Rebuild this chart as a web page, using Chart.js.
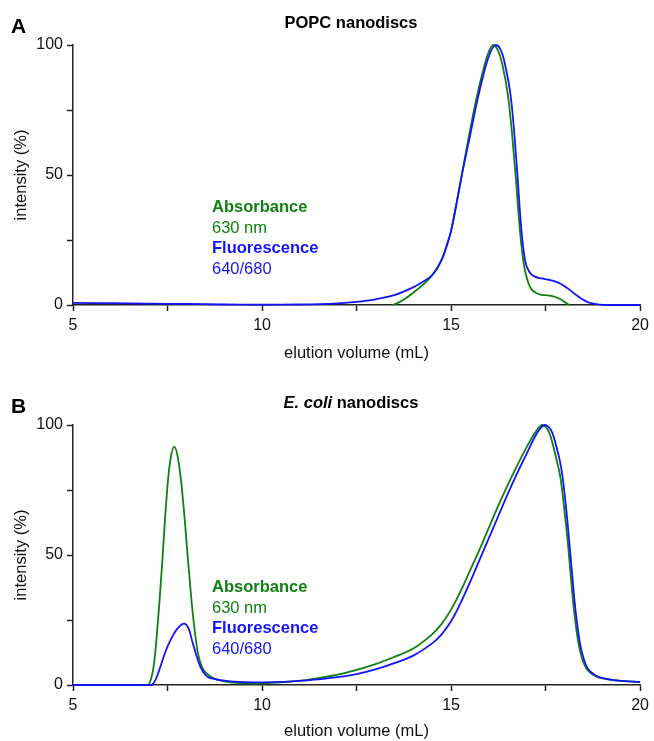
<!DOCTYPE html>
<html>
<head>
<meta charset="utf-8">
<script src="https://cdn.jsdelivr.net/npm/chart.js@4.4.1/dist/chart.umd.min.js"></script>
<style>
  html, body { margin: 0; padding: 0; background: #fff; }
  canvas { position: absolute; left: 0; }
  #chartA { top: 0; }
  #chartB { top: 380px; }
</style>
</head>
<body>
<canvas id="chartA" width="654" height="380"></canvas>
<canvas id="chartB" width="654" height="361"></canvas>
<script>
// tick labels
const xTickLabels = [5, 10, 15, 20];
const yTickLabels = [0, 50, 100];

// Panel A - POPC nanodiscs
const popcAbsX = [13.46, 13.7, 14.05, 14.4, 14.6, 14.75, 14.9, 15.0, 15.15, 15.32, 15.5, 15.68, 15.88, 16.0, 16.11, 16.22, 16.35, 16.51, 16.68, 16.82, 16.92, 17.02, 17.12, 17.25, 17.39, 17.55, 17.7, 17.87, 18.0, 18.13];
const popcAbsY = [0, 1.6, 5.3, 9.8, 13.5, 17.5, 23.5, 28.5, 39.5, 53, 67, 80, 92, 97.5, 100, 98.5, 93, 80, 54.6, 29, 16, 9.5, 6.2, 4.6, 3.9, 3.7, 3.3, 2.4, 1.2, 0];
const popcFluX = [5, 6, 7, 8, 9, 10, 11, 11.5, 12, 12.5, 13, 13.5, 14, 14.3, 14.5, 14.65, 14.8, 14.9, 15.0, 15.15, 15.3, 15.5, 15.7, 15.9, 16.05, 16.18, 16.3, 16.42, 16.58, 16.73, 16.86, 16.96, 17.06, 17.2, 17.4, 17.56, 17.75, 17.91, 18.1, 18.26, 18.45, 18.6, 18.8, 19.05, 20];
const popcFluY = [0.8, 0.7, 0.5, 0.4, 0.2, 0.1, 0.2, 0.3, 0.6, 1.2, 2.2, 3.8, 6.8, 9.3, 11.5, 14.5, 19, 23.5, 28.5, 39.5, 51, 65, 79, 91, 97.5, 100, 98.5, 93, 80, 55, 29, 17, 13, 11, 10.2, 9.8, 9.1, 8.1, 6.2, 4.4, 2.4, 1.2, 0.4, 0, 0];

// Panel B - E. coli nanodiscs
const ecoliAbsX = [5, 6.9, 7.0, 7.12, 7.22, 7.35, 7.47, 7.57, 7.68, 7.79, 7.91, 8.06, 8.23, 8.41, 8.72, 9.25, 10.0, 11.16, 12.0, 12.5, 13.0, 13.5, 14.0, 14.5, 14.75, 15.0, 15.25, 15.5, 15.75, 16.0, 16.25, 16.5, 16.75, 17.0, 17.2, 17.39, 17.5, 17.6, 17.7, 17.8, 17.89, 18.0, 18.09, 18.16, 18.25, 18.37, 18.47, 18.57, 18.7, 18.88, 19.14, 19.5, 20];
const ecoliAbsY = [0, 0, 0, 6, 19.8, 45, 71, 86, 91.7, 86, 71, 45, 19.8, 7, 2.6, 0.9, 0.6, 1.9, 4, 5.8, 8, 10.8, 14, 19.5, 23.5, 29, 36, 44, 52, 60.5, 69, 77, 84.5, 91.5, 96.5, 100, 99.3, 97, 92, 86, 80, 67, 54.5, 43, 29, 16, 10, 6.5, 4.5, 3.0, 2.2, 1.6, 1.2];
const ecoliFluX = [5, 7.0, 7.09, 7.2, 7.31, 7.45, 7.57, 7.75, 7.93, 8.05, 8.15, 8.25, 8.37, 8.5, 8.63, 9.25, 10.0, 11.2, 12.0, 12.5, 13.0, 13.5, 14.0, 14.5, 14.75, 15.0, 15.25, 15.5, 15.75, 16.0, 16.25, 16.5, 16.75, 17.0, 17.2, 17.35, 17.47, 17.58, 17.68, 17.78, 17.88, 17.95, 18.05, 18.13, 18.2, 18.29, 18.41, 18.51, 18.61, 18.74, 18.92, 19.18, 19.5, 20];
const ecoliFluY = [0, 0, 0, 2.5, 7, 13, 17, 21.5, 23.6, 22, 17, 12, 7, 4, 2.6, 1.3, 1.0, 1.8, 3, 4.2, 6, 8.4, 11.3, 16, 19.5, 24.5, 31.5, 39.5, 48, 56.5, 65, 73.5, 81.5, 89, 95, 98.5, 100, 99.3, 97, 92, 86, 80, 67, 54.5, 43, 29, 16, 10, 6.5, 4.5, 3.0, 2.2, 1.6, 1.2];

const GREEN = 'rgb(16,128,16)';
const BLUE = 'rgb(20,20,250)';
const FONT = '"Liberation Sans", Arial, sans-serif';

function pts(xs, ys) {
  return xs.map((x, i) => ({ x: x, y: ys[i] }));
}

// titles, panel letters and the coloured text legend
const panelText = {
  id: 'panelText',
  afterDraw(chart, args, opts) {
    const ctx = chart.ctx;
    ctx.save();
    ctx.textBaseline = 'alphabetic';
    ctx.fillStyle = '#000';
    ctx.font = 'bold 21px ' + FONT;
    ctx.fillText(opts.letter, 11, 33);

    // title, centred, with optional italic part
    const parts = opts.title;
    let w = 0;
    parts.forEach(p => { ctx.font = p.font + ' ' + FONT; w += ctx.measureText(p.text).width; });
    let x = 351 - w / 2;
    parts.forEach(p => {
      ctx.font = p.font + ' ' + FONT;
      ctx.fillText(p.text, x, 27.5);
      x += ctx.measureText(p.text).width;
    });

    const lines = [
      ['Absorbance', 'bold 16.5px', GREEN],
      ['630 nm', '16.5px', GREEN],
      ['Fluorescence', 'bold 16.5px', BLUE],
      ['640/680', '16.5px', BLUE]
    ];
    lines.forEach((l, i) => {
      ctx.font = l[1] + ' ' + FONT;
      ctx.fillStyle = l[2];
      ctx.fillText(l[0], 212, 212 + i * 20.6);
    });
    ctx.restore();
  }
};

function makeChart(id, absX, absY, fluX, fluY, letter, title, xBoxH, padBottom) {
  return new Chart(document.getElementById(id), {
    type: 'line',
    data: {
      datasets: [
        { label: 'Fluorescence 640/680', data: pts(fluX, fluY), borderColor: BLUE, borderWidth: 1.8,
          pointRadius: 0, tension: 0.4, clip: false, fill: false },
        { label: 'Absorbance 630 nm', data: pts(absX, absY), borderColor: GREEN, borderWidth: 1.8,
          pointRadius: 0, tension: 0.4, clip: false, fill: false }
      ]
    },
    options: {
      responsive: false,
      animation: false,
      events: [],
      layout: { padding: { left: 0, right: 11, top: 45, bottom: padBottom } },
      plugins: {
        legend: { display: false },
        tooltip: { enabled: false },
        panelText: { letter: letter, title: title }
      },
      scales: {
        x: {
          type: 'linear',
          min: 5, max: 20,
          afterFit: s => { s.height = xBoxH; },
          border: { color: '#222', width: 1.5 },
          grid: { drawOnChartArea: false, tickLength: 6, tickColor: '#222', tickWidth: 1.5 },
          ticks: {
            stepSize: 2.5, autoSkip: false, maxRotation: 0, padding: 5,
            color: '#111', font: { family: FONT, size: 16 },
            callback: v => xTickLabels.includes(v) ? String(v) : ''
          },
          title: { display: true, text: 'elution volume (mL)', color: '#111',
                   font: { family: FONT, size: 16.5 }, padding: { top: 0, bottom: 0 } }
        },
        y: {
          min: 0, max: 100,
          afterFit: s => { s.width = 73; },
          border: { color: '#222', width: 1.5 },
          grid: { drawOnChartArea: false, tickLength: 6, tickColor: '#222', tickWidth: 1.5 },
          ticks: {
            stepSize: 25, autoSkip: false, padding: 4,
            color: '#111', font: { family: FONT, size: 16 },
            callback: v => yTickLabels.includes(v) ? String(v) : ''
          },
          title: { display: true, text: 'intensity (%)', color: '#111',
                   font: { family: FONT, size: 16.5 }, padding: { top: 12, bottom: 0 } }
        }
      }
    },
    plugins: [panelText]
  });
}

makeChart('chartA', popcAbsX, popcAbsY, popcFluX, popcFluY, 'A',
  [{ text: 'POPC nanodiscs', font: 'bold 16.5px' }], 58, 17);
makeChart('chartB', ecoliAbsX, ecoliAbsY, ecoliFluX, ecoliFluY, 'B',
  [{ text: 'E. coli', font: 'italic bold 16.5px' }, { text: ' nanodiscs', font: 'bold 16.5px' }], 56, 0);
</script>
</body>
</html>
